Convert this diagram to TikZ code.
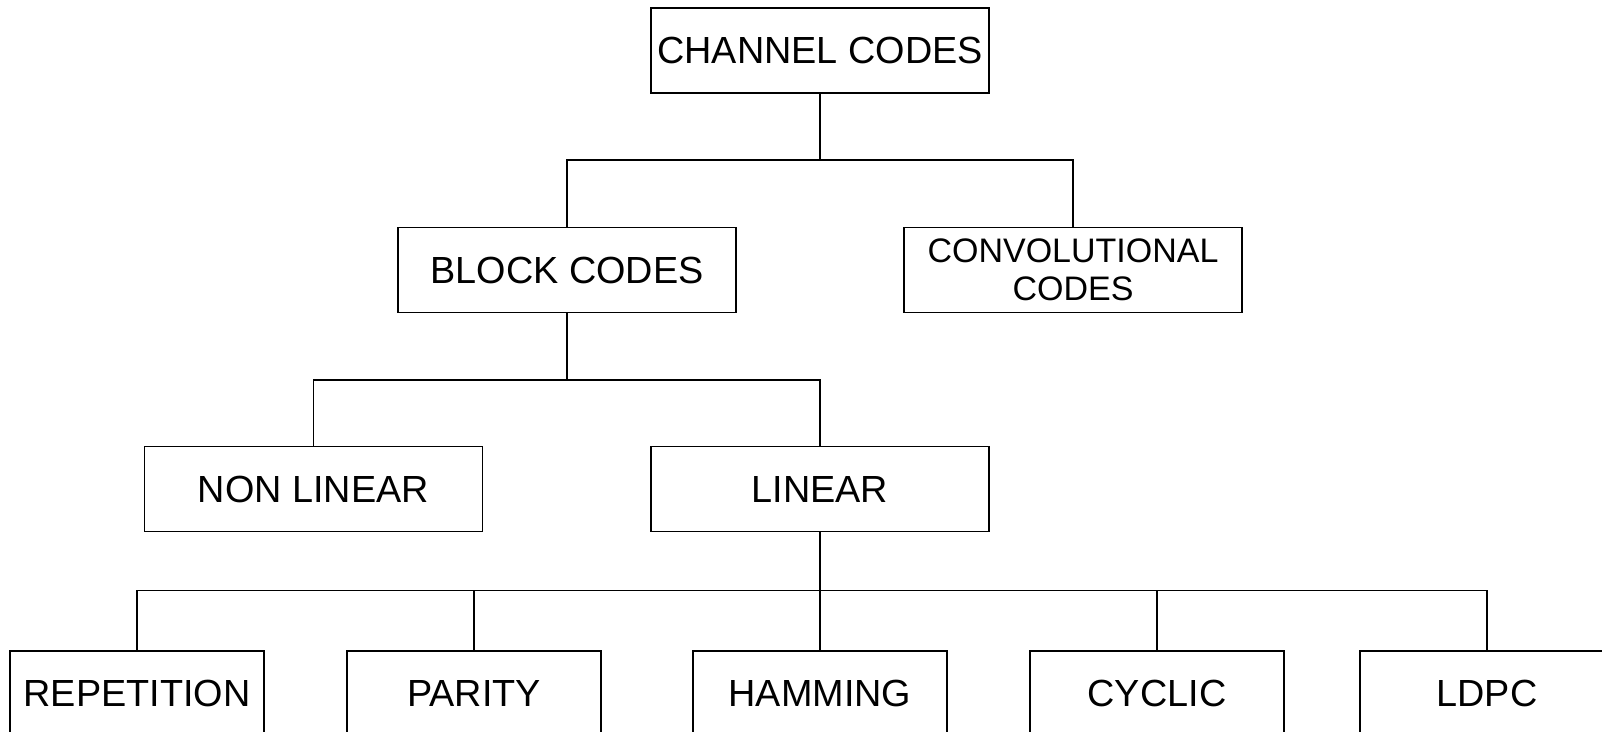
\documentclass[tikz,border=0pt]{standalone}
\usepackage{fontspec}
\setmainfont{Liberation Sans}
\begin{document}
\begin{tikzpicture}[x=0.5pt,y=-0.5pt,
  box/.style={draw,line width=0.6pt,rectangle,inner sep=0pt,
    minimum width=169pt,minimum height=42.5pt,align=center,
    font=\fontsize{18.9pt}{21pt}\selectfont},
  leaf/.style={box,minimum width=127pt},
  small/.style={font=\fontsize{17pt}{19pt}\selectfont},
  link/.style={line width=0.6pt}]
\useasboundingbox (0,0) rectangle (1602,732);
\clip (0,0) rectangle (1602,732);
% tree nodes
\node[box] (cc) at (820,50.5) {CHANNEL CODES};
\node[box] (bc) at (567,270) {BLOCK CODES};
\node[box,small] (conv) at (1073,270) {CONVOLUTIONAL\\CODES};
\node[box] (nl) at (313.5,489) {NON LINEAR};
\node[box] (lin) at (820,489) {LINEAR};
\node[leaf] (rep) at (137,693.5) {REPETITION};
\node[leaf] (par) at (474,693.5) {PARITY};
\node[leaf] (ham) at (820,693.5) {HAMMING};
\node[leaf] (cyc) at (1157,693.5) {CYCLIC};
\node[leaf] (ldpc) at (1487,693.5) {LDPC};
% junction points of the elbow connectors
\coordinate (j1) at (820,160);
\coordinate (j2) at (567,380);
\coordinate (j3) at (820,590.5);
% connectors
\draw[link] (cc.south) -- (j1);
\draw[link] (bc.north) |- (j1) -| (conv.north);
\draw[link] (bc.south) -- (j2);
\draw[link] (nl.north) |- (j2) -| (lin.north);
\draw[link] (lin.south) -- (j3);
\draw[link] (rep.north) |- (j3) -| (ldpc.north);
\draw[link] (par.north) -- (par.north |- j3);
\draw[link] (ham.north) -- (j3);
\draw[link] (cyc.north) -- (cyc.north |- j3);
\end{tikzpicture}
\end{document}
